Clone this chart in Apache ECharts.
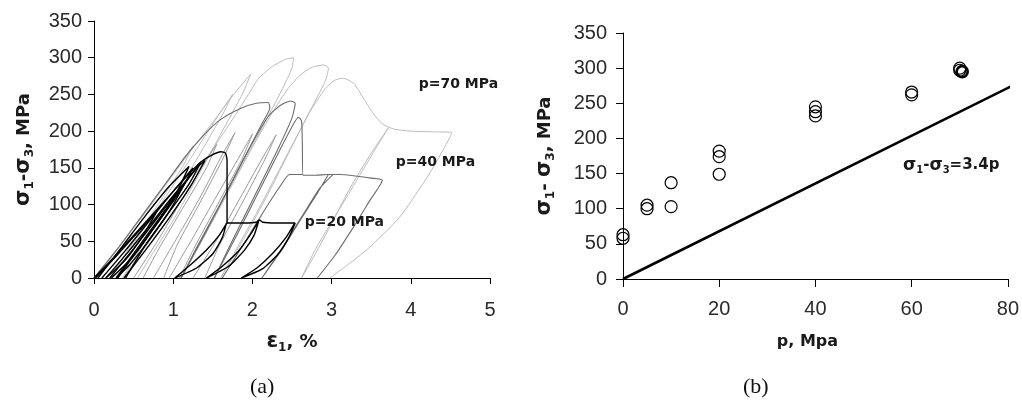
<!DOCTYPE html>
<html>
<head>
<meta charset="utf-8">
<script src="https://cdn.jsdelivr.net/npm/echarts@6/dist/echarts.min.js"></script>
<style>
html,body{margin:0;padding:0;background:#fff;}
#chart{width:1022px;height:401px;}
</style>
</head>
<body>
<div id="chart"></div>
<script>
// ---------- DATA: chart (a) strain (%) vs deviatoric stress (MPa) ----------
// p = 70 MPa (light gray) cycles
const p70_cycle0a = [[0,0],[0.35,48],[0.7,98],[1.0,142],[1.25,180],[1.12,152],[0.82,102],[0.5,50],[0.2,0]];
const p70_cycle0b = [[0.2,0],[0.55,55],[0.9,110],[1.25,168],[1.55,218],[1.75,250],[1.62,222],[1.32,166],[0.98,106],[0.62,46],[0.36,0]];
const p70_cycle1 = [[0,0],[0.3,40],[0.6,82],[0.9,126],[1.2,170],[1.5,212],[1.75,248],[1.98,278],[1.88,252],[1.62,200],[1.32,140],[1.02,82],[0.75,35],[0.55,0]];
const p70_cycle2 = [[0.36,0],[0.7,50],[1.05,105],[1.4,160],[1.7,208],[1.95,250],[2.08,272],[2.25,288],[2.42,298],[2.52,300],[2.5,286],[2.38,258],[2.1,200],[1.75,130],[1.4,62],[1.1,0]];
const p70_cycle3 = [[1.1,0],[1.4,58],[1.7,118],[2.0,178],[2.25,225],[2.45,258],[2.6,276],[2.75,287],[2.9,290],[2.96,286],[2.92,268],[2.7,222],[2.4,160],[2.05,88],[1.75,30],[1.6,0]];
const p70_cycle4 = [[1.6,0],[1.9,55],[2.2,115],[2.48,175],[2.72,225],[2.92,258],[3.05,270],[3.15,272],[3.28,265],[3.4,245],[3.52,225],[3.64,210],[3.78,203],[4.0,200],[4.3,199],[4.52,198],[4.24,143],[3.86,83],[3.44,38],[2.98,0]];
const p70_cycle5 = [[3.72,205],[3.5,170],[3.22,120],[2.98,70],[2.78,30],[2.62,0],[2.8,40],[3.05,85],[3.3,130],[3.55,175],[3.72,205]];
// p = 40 MPa (dark gray) cycles
const p40_cycle1 = [[0,0],[0.3,40],[0.6,84],[0.9,128],[1.15,165],[1.38,194],[1.6,216],[1.85,231],[2.05,238],[2.2,239],[2.22,232],[2.12,210],[1.88,160],[1.58,98],[1.28,38],[1.1,0]];
const p40_cycle2 = [[1.1,0],[1.4,60],[1.7,122],[1.98,180],[2.2,220],[2.35,235],[2.48,241],[2.54,238],[2.5,218],[2.32,175],[2.02,110],[1.72,45],[1.52,0]];
const p40_cycle3 = [[1.52,0],[1.82,62],[2.1,122],[2.35,175],[2.5,206],[2.58,219],[2.62,214],[2.63,185],[2.64,140],[2.8,140],[2.95,141],[3.1,141],[3.3,139],[3.5,136],[3.64,133],[3.48,105],[3.28,70],[3.05,32],[2.82,0]];
const p40_cycle4 = [[1.62,0],[1.9,48],[2.15,92],[2.35,125],[2.47,141],[2.64,141]];
const p40_cycle5 = [[2.96,141],[2.8,112],[2.6,78],[2.38,40],[2.12,0],[2.4,45],[2.65,88],[2.85,122],[3.02,141]];
// other confining pressures (mid gray) cycles
const pMid_cycle1 = [[0.5,0],[0.8,50],[1.1,105],[1.4,158],[1.55,182],[1.42,150],[1.12,95],[0.82,40],[0.62,0]];
const pMid_cycle2 = [[0.75,0],[1.05,55],[1.35,112],[1.62,168],[1.78,198],[1.64,165],[1.35,105],[1.05,45],[0.88,0]];
const pMid_cycle3 = [[1.25,0],[1.55,52],[1.85,110],[2.12,162],[2.3,195],[2.16,162],[1.88,104],[1.58,44],[1.4,0]];
const pMid_cycle4 = [[0.95,0],[1.25,55],[1.55,112],[1.85,168],[2.0,196],[1.86,160],[1.56,100],[1.26,40],[1.08,0]];
// p = 20 MPa (black) cycles
const p20_envelope = [[0,0],[0.25,28],[0.5,58],[0.75,88],[1.0,118],[1.2,142],[1.35,158],[1.48,167],[1.6,172],[1.66,170],[1.68,160],[1.68,120],[1.68,75],[1.9,75],[2.05,76],[2.09,79],[2.13,76],[2.3,75],[2.54,75]];
const p20_cycle1 = [[0.02,0],[0.3,32],[0.55,62],[0.8,92],[0.62,58],[0.4,25],[0.15,0]];
const p20_cycle2 = [[0.15,0],[0.45,38],[0.75,78],[1.0,112],[1.15,130],[0.98,96],[0.72,55],[0.45,18],[0.28,0]];
const p20_cycle3 = [[0.28,0],[0.58,45],[0.85,85],[1.1,122],[1.3,150],[1.4,160],[1.22,125],[0.95,82],[0.65,38],[0.38,0]];
const p20_cycle4 = [[0.05,0],[0.35,42],[0.65,85],[0.95,125],[1.2,152],[1.05,118],[0.8,75],[0.5,30],[0.22,0]];
const p20_cycle5 = [[0.1,0],[0.4,38],[0.7,78],[1.0,118],[1.25,150],[1.1,120],[0.85,82],[0.55,38],[0.3,0]];
const p20_cycle6 = [[0.2,0],[0.5,40],[0.8,82],[1.1,124],[1.35,158],[1.2,128],[0.95,90],[0.65,45],[0.4,0]];
const p20_loop1 = [[1.67,74],[1.62,55],[1.5,33],[1.3,14],[1.02,0],[1.22,18],[1.42,38],[1.58,58],[1.68,75]];
const p20_loop2 = [[2.08,78],[2.02,58],[1.9,38],[1.7,16],[1.42,0],[1.62,16],[1.82,36],[1.98,60],[2.08,78]];
const p20_loop3 = [[2.54,75],[2.46,55],[2.32,32],[2.12,12],[1.86,0],[2.06,14],[2.26,34],[2.43,56],[2.53,74]];
const labelsA = [
  {name:'p=70 MPa', value:[4.10,264]},
  {name:'p=40 MPa', value:[3.81,158]},
  {name:'p=20 MPa', value:[2.66,76]}
];
// ---------- DATA: chart (b) peak strength vs confining pressure ----------
const pressureB = [0,0,5,5,10,10,20,20,20,40,40,40,60,60,70,70];
const strengthB = [58,63,100,105,103,137,149,174,182,232,238,245,262,266,297,300];
const pressureB_dark = [70.5];
const strengthB_dark = [295];
const fitLineB = [[0,0],[81.5,277]];
const labelB = [{name:'fit', value:[58.2,162]}];

// ---------- BUILD ----------
const FONT = 'DejaVu Sans';
const TICKFONT = 'Liberation Sans';
const TXT = '#1a1a1a';
const lightGray = [p70_cycle0a,p70_cycle0b,p70_cycle1,p70_cycle2,p70_cycle3,p70_cycle4,p70_cycle5];
const midGray = [pMid_cycle1,pMid_cycle2,pMid_cycle3,pMid_cycle4];
const darkGray = [p40_cycle1,p40_cycle2,p40_cycle3,p40_cycle4,p40_cycle5];
const black = [p20_envelope,p20_cycle1,p20_cycle2,p20_cycle3,p20_cycle4,p20_cycle5,p20_cycle6,p20_loop1,p20_loop2,p20_loop3];

function curveSeries(list, color, width) {
  return list.map(d => ({
    type:'line', xAxisIndex:0, yAxisIndex:0, data:d, showSymbol:false, symbol:'none',
    smooth:0.2, lineStyle:{color:color, width:width}, silent:true, z:2
  }));
}
const axisLabelStyle = {fontFamily:TICKFONT, fontSize:20, color:'#2a2a2a'};
const subRich = {
  s:{fontFamily:FONT, fontWeight:'bold', fontSize:21, color:TXT, lineHeight:24},
  sub:{fontFamily:FONT, fontWeight:'bold', fontSize:12, color:TXT, lineHeight:24, verticalAlign:'bottom'},
  t:{fontFamily:FONT, fontWeight:'bold', fontSize:18, color:TXT, lineHeight:24}
};

const series = [].concat(
  curveSeries(lightGray,'#bcbcbc',1),
  curveSeries(midGray,'#9a9a9a',1),
  curveSeries(darkGray,'#6c6c6c',1.1),
  curveSeries(black,'#000000',1.4),
  [{
    type:'scatter', xAxisIndex:0, yAxisIndex:0, data:labelsA, symbolSize:0,
    itemStyle:{color:'#fff', opacity:1}, silent:true,
    label:{show:true, position:'right', distance:0, formatter:'{b}',
      fontFamily:FONT, fontWeight:'bold', fontSize:14, color:TXT}
  },
  {
    type:'line', xAxisIndex:1, yAxisIndex:1, data:fitLineB, showSymbol:false, symbol:'none',
    clip:false, lineStyle:{color:'#000', width:2.6}, silent:true
  },
  {
    type:'scatter', xAxisIndex:1, yAxisIndex:1,
    data: pressureB.map((p,i)=>[p,strengthB[i]]),
    symbol:'circle', symbolSize:12,
    itemStyle:{color:'rgba(0,0,0,0)', borderColor:'#000', borderWidth:1.2, opacity:1}, silent:true, z:3
  },
  {
    type:'scatter', xAxisIndex:1, yAxisIndex:1,
    data: pressureB_dark.map((p,i)=>[p,strengthB_dark[i]]),
    symbol:'circle', symbolSize:11,
    itemStyle:{color:'rgba(0,0,0,0)', borderColor:'#000', borderWidth:2.6, opacity:1}, silent:true, z:3
  },
  {
    type:'scatter', xAxisIndex:1, yAxisIndex:1, data:labelB, symbolSize:0,
    itemStyle:{color:'#fff', opacity:1}, silent:true,
    label:{show:true, position:'right', distance:0,
      formatter:'{s|σ}{sub|1}{t|-}{s|σ}{sub|3}{t|=3.4p}',
      rich:{
        s:{fontFamily:FONT, fontWeight:'bold', fontSize:17, color:TXT, lineHeight:20},
        sub:{fontFamily:FONT, fontWeight:'bold', fontSize:10, color:TXT, lineHeight:20, verticalAlign:'bottom'},
        t:{fontFamily:FONT, fontWeight:'bold', fontSize:15, color:TXT, lineHeight:20}
      }}
  }]
);

const chart = echarts.init(document.getElementById('chart'), null, {renderer:'canvas'});
chart.setOption({
  animation:false,
  backgroundColor:'#fff',
  grid:[
    {left:94, top:21, width:396, height:257},
    {left:623, top:33, width:385, height:246}
  ],
  xAxis:[
    {gridIndex:0, type:'value', min:0, max:5, interval:1,
     axisLine:{lineStyle:{color:'#000', width:1}}, axisTick:{inside:false, length:6, lineStyle:{color:'#000'}},
     splitLine:{show:false}, axisLabel:Object.assign({margin:22}, axisLabelStyle),
     name:'{e|ε}{sub|1}{t|, %}', nameLocation:'middle', nameGap:52,
     nameTextStyle:{rich:{e:subRich.s, sub:subRich.sub, t:subRich.t}}},
    {gridIndex:1, type:'value', min:0, max:80, interval:20,
     axisLine:{lineStyle:{color:'#000', width:1}}, axisTick:{inside:false, length:8, lineStyle:{color:'#000'}},
     splitLine:{show:false}, axisLabel:Object.assign({margin:20}, axisLabelStyle),
     name:'p, Mpa', nameLocation:'middle', nameGap:55,
     nameTextStyle:{fontFamily:FONT, fontWeight:'bold', fontSize:16, color:TXT, padding:[0,16,0,0]}}
  ],
  yAxis:[
    {gridIndex:0, type:'value', min:0, max:350, interval:50,
     axisLine:{lineStyle:{color:'#000', width:1}}, axisTick:{inside:false, length:6, lineStyle:{color:'#000'}},
     splitLine:{show:false}, axisLabel:Object.assign({margin:12}, axisLabelStyle),
     name:'{s|σ}{sub|1}{t|-}{s|σ}{sub|3}{t|, MPa}', nameLocation:'middle', nameGap:58,
     nameTextStyle:{rich:subRich}},
    {gridIndex:1, type:'value', min:0, max:350, interval:50,
     axisLine:{lineStyle:{color:'#000', width:1}}, axisTick:{inside:false, length:7, lineStyle:{color:'#000'}},
     splitLine:{show:false}, axisLabel:Object.assign({margin:16}, axisLabelStyle),
     name:'{s|σ}{sub|1}{t|- }{s|σ}{sub|3}{t|, MPa}', nameLocation:'middle', nameGap:66,
     nameTextStyle:{rich:subRich}}
  ],
  graphic:[
    {type:'text', left:250, top:376, style:{text:'(a)', font:'22px "Liberation Serif"', fill:'#111'}},
    {type:'text', left:743, top:376, style:{text:'(b)', font:'22px "Liberation Serif"', fill:'#111'}}
  ],
  series:series
});
</script>
</body>
</html>
